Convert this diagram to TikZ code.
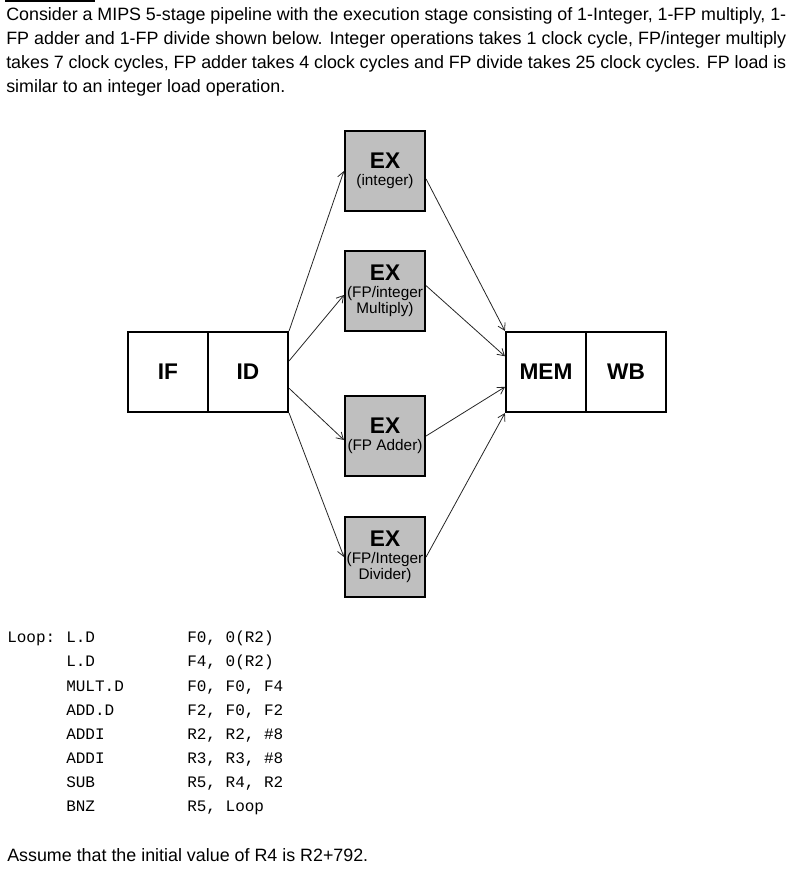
\documentclass[tikz,border=0pt]{standalone}
\usepackage{fontspec}
\setmainfont{Liberation Sans}
\newfontfamily\codefont{Liberation Mono}
\usetikzlibrary{arrows.meta}
\begin{document}
\begin{tikzpicture}[x=0.75pt,y=-0.75pt,
  box/.style={draw,line width=1.6pt,minimum width=60pt,minimum height=60pt,inner sep=0pt,align=center},
  exbox/.style={box,fill=black!25},
  big/.style={font=\bfseries\fontsize{17pt}{18pt}\selectfont},
  conn/.style={draw=black!85,line width=0.6pt,-{Straight Barb[length=5pt,width=6pt]}},
  code/.style={anchor=base west,inner sep=0pt,font=\codefont\fontsize{12pt}{14pt}\selectfont}]
\useasboundingbox (0,0) rectangle (801,874);
\draw[line width=0.8pt] (5,1) -- (95,1);
\node[anchor=north west,inner sep=0pt,text width=585pt,align=justify,font=\fontsize{13.4pt}{18pt}\selectfont] (para) at (6,7)
 {Consider a MIPS 5-stage pipeline with the execution stage consisting of 1-Integer, 1-FP multiply, 1-FP adder and 1-FP divide shown below. Integer operations takes 1 clock cycle, FP/integer multiply takes 7 clock cycles, FP adder takes 4 clock cycles and FP divide takes 25 clock cycles. FP load is similar to an integer load operation.};
\node[box,big] (if) at (168,372) {IF};
\node[box,big] (id) at (248,372) {ID};
\node[box,big] (mem) at (546,372) {\raisebox{-4pt}{MEM}};
\node[box,big] (wb) at (626,372) {\raisebox{-4pt}{WB}};
\newcommand{\extitle}{{\bfseries\fontsize{17pt}{18pt}\selectfont EX}\\[1pt]}
\newcommand{\exsub}{\fontsize{11.5pt}{14pt}\selectfont}
\node[exbox] (exint) at (385,171) {\extitle{\exsub (integer)}};
\node[exbox] (exmul) at (385,291) {\extitle{\exsub (FP/integer}\\{\exsub Multiply)}};
\node[exbox] (exadd) at (385,436) {\extitle{\exsub (FP Adder)}};
\node[exbox] (exdiv) at (385,557) {\extitle{\exsub (FP/Integer}\\{\exsub Divider)}};
\draw[conn] (id.north east) -- (exint.west);
\draw[conn] ([yshift=-22.5pt]id.north east) -- ([yshift=-3pt]exmul.west);
\draw[conn] ([yshift=-43pt]id.north east) -- ([yshift=-3pt]exadd.west);
\draw[conn] (id.south east) -- (exdiv.west);
\draw[conn] ([yshift=-6pt]exint.east) -- (mem.north west);
\draw[conn] ([yshift=4pt]exmul.east) -- ([yshift=-19pt]mem.north west);
\draw[conn] (exadd.east) -- ([yshift=-42pt]mem.north west);
\draw[conn] (exdiv.east) -- (mem.south west);
\foreach \y/\a/\b/\c in {637/Loop:/L.D/{F0, 0(R2)},661//L.D/{F4, 0(R2)},686//MULT.D/{F0, F0, F4},710//ADD.D/{F2, F0, F2},734//ADDI/{R2, R2, \#8},758//ADDI/{R3, R3, \#8},782//SUB/{R5, R4, R2},806//BNZ/{R5, Loop}}{
  \node[code] (l\y) at (7,\y+5) {\a};
  \node[code] (o\y) at (66,\y+5) {\b};
  \node[code] (r\y) at (187,\y+5) {\c};
}
\node[anchor=base west,inner sep=0pt,font=\fontsize{13.4pt}{15pt}\selectfont] (assume) at (7,861) {Assume that the initial value of R4 is R2+792.};
\end{tikzpicture}
\end{document}
